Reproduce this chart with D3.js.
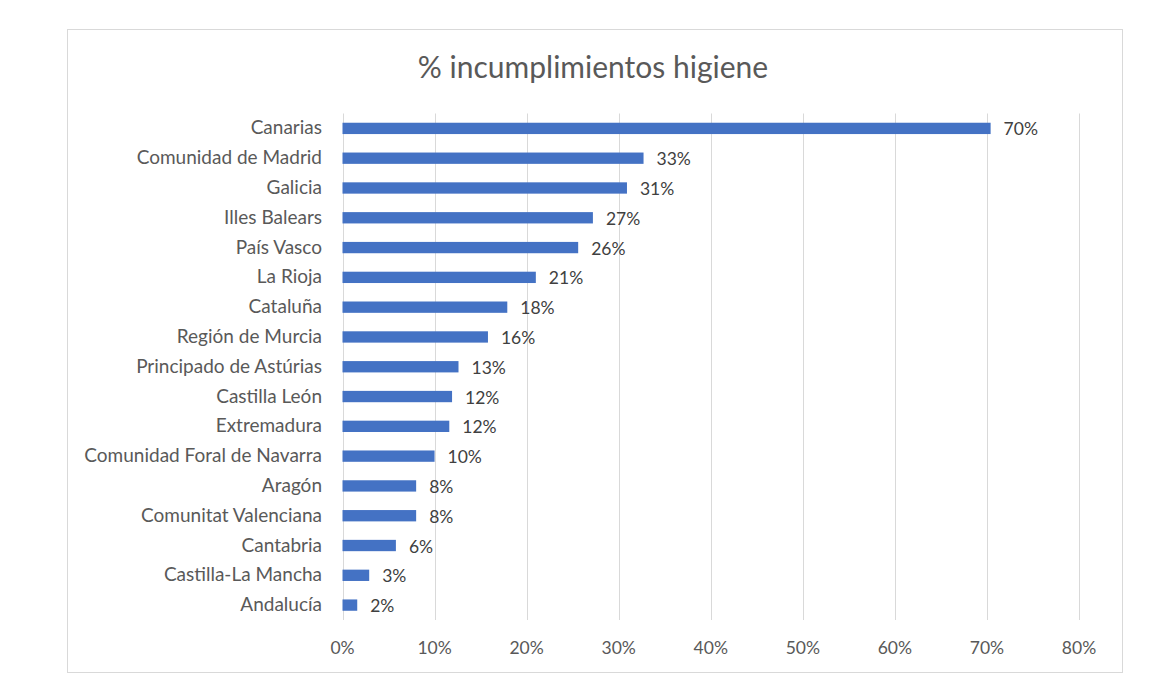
<!DOCTYPE html>
<html>
<head>
<meta charset="utf-8">
<script src="https://cdn.jsdelivr.net/npm/d3@7"></script>
<style>
  html, body { margin: 0; padding: 0; background: #fff; }
  svg { display: block; font-family: Lato, "Open Sans", sans-serif; }
</style>
</head>
<body>
<svg id="chart" width="1152" height="700"></svg>
<script>
/* % incumplimientos higiene — horizontal bar chart */
var regions = [
  'Canarias', 'Comunidad de Madrid', 'Galicia', 'Illes Balears', 'País Vasco',
  'La Rioja', 'Cataluña', 'Región de Murcia', 'Principado de Astúrias',
  'Castilla León', 'Extremadura', 'Comunidad Foral de Navarra', 'Aragón',
  'Comunitat Valenciana', 'Cantabria', 'Castilla-La Mancha', 'Andalucía'
];
var values = [0.704, 0.327, 0.309, 0.272, 0.256, 0.210, 0.179, 0.158, 0.126,
  0.119, 0.116, 0.100, 0.080, 0.080, 0.058, 0.029, 0.016];
var xTicks = [0, 0.1, 0.2, 0.3, 0.4, 0.5, 0.6, 0.7, 0.8];

(function () {
  'use strict';
  var svg = d3.select('#chart');
  var textColor = '#595959', barColor = '#4472c4', gridColor = '#d9d9d9';
  var fmt = d3.format('.0%');

  // outer chart frame
  svg.append('rect')
    .attr('x', 67.5).attr('y', 29.5).attr('width', 1055).attr('height', 643)
    .attr('fill', '#fff').attr('stroke', gridColor).attr('stroke-width', 1);

  svg.append('text')
    .attr('x', 593).attr('y', 78)
    .attr('text-anchor', 'middle')
    .attr('fill', textColor).attr('font-size', 30)
    .text('% incumplimientos higiene');

  var m = { left: 342.5, right: 1079, top: 113.5, bottom: 620 };
  var x = d3.scaleLinear().domain([0, 0.8]).range([m.left, m.right]);
  var y = d3.scaleBand().domain(regions).range([m.top, m.bottom]).paddingInner(0.62).paddingOuter(0.31);

  // gridlines
  svg.append('g').selectAll('line').data(xTicks).join('line')
    .attr('x1', function (d) { return Math.round(x(d)) + 0.5; })
    .attr('x2', function (d) { return Math.round(x(d)) + 0.5; })
    .attr('y1', m.top).attr('y2', m.bottom)
    .attr('stroke', gridColor).attr('stroke-width', 1);

  // x tick labels
  svg.append('g').selectAll('text').data(xTicks).join('text')
    .attr('x', function (d) { return x(d); })
    .attr('y', 654)
    .attr('text-anchor', 'middle')
    .attr('fill', textColor).attr('font-size', 17.5)
    .text(function (d) { return fmt(d); });

  // bars
  svg.append('g').selectAll('rect').data(values).join('rect')
    .attr('x', x(0))
    .attr('y', function (d, i) { return y(regions[i]); })
    .attr('width', function (d) { return x(d) - x(0); })
    .attr('height', y.bandwidth())
    .attr('fill', barColor);

  // value labels
  svg.append('g').selectAll('text').data(values).join('text')
    .attr('x', function (d) { return x(d) + 13; })
    .attr('y', function (d, i) { return y(regions[i]) + y.bandwidth() / 2 + 7; })
    .attr('fill', '#404040').attr('font-size', 17.5)
    .text(function (d) { return fmt(d); });

  // category labels
  svg.append('g').selectAll('text').data(regions).join('text')
    .attr('x', 322)
    .attr('y', function (d) { return y(d) + y.bandwidth() / 2 + 6; })
    .attr('text-anchor', 'end')
    .attr('fill', textColor).attr('font-size', 19)
    .text(function (d) { return d; });
})();
</script>
</body>
</html>
